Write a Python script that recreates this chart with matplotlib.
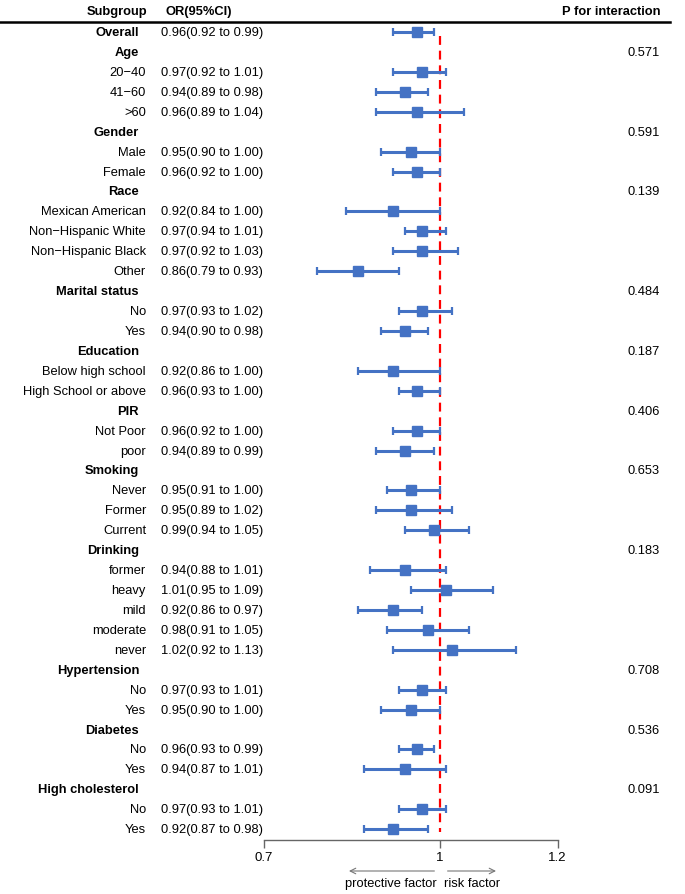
import numpy as np
import matplotlib
matplotlib.use("Agg")
from matplotlib import pyplot as plt
import matplotlib.transforms as mtransforms

plt.rcParams['font.family'] = ['Liberation Sans', 'DejaVu Sans']

# rows of the table (headers are bold, levels have an OR)
labels = ["Overall", "Age", "20\u221240", "41\u221260", ">60",
          "Gender", "Male", "Female",
          "Race", "Mexican American", "Non\u2212Hispanic White", "Non\u2212Hispanic Black", "Other",
          "Marital status", "No", "Yes",
          "Education", "Below high school", "High School or above",
          "PIR", "Not Poor", "poor",
          "Smoking", "Never", "Former", "Current",
          "Drinking", "former", "heavy", "mild", "moderate", "never",
          "Hypertension", "No", "Yes",
          "Diabetes", "No", "Yes",
          "High cholesterol", "No", "Yes"]
bold_rows = ["Overall", "Age", "Gender", "Race", "Marital status", "Education", "PIR",
             "Smoking", "Drinking", "Hypertension", "Diabetes", "High cholesterol"]

nan = np.nan
or_est = [0.96, nan, 0.97, 0.94, 0.96,
          nan, 0.95, 0.96,
          nan, 0.92, 0.97, 0.97, 0.86,
          nan, 0.97, 0.94,
          nan, 0.92, 0.96,
          nan, 0.96, 0.94,
          nan, 0.95, 0.95, 0.99,
          nan, 0.94, 1.01, 0.92, 0.98, 1.02,
          nan, 0.97, 0.95,
          nan, 0.96, 0.94,
          nan, 0.97, 0.92]
ci_low = [0.92, nan, 0.92, 0.89, 0.89,
          nan, 0.90, 0.92,
          nan, 0.84, 0.94, 0.92, 0.79,
          nan, 0.93, 0.90,
          nan, 0.86, 0.93,
          nan, 0.92, 0.89,
          nan, 0.91, 0.89, 0.94,
          nan, 0.88, 0.95, 0.86, 0.91, 0.92,
          nan, 0.93, 0.90,
          nan, 0.93, 0.87,
          nan, 0.93, 0.87]
ci_high = [0.99, nan, 1.01, 0.98, 1.04,
           nan, 1.00, 1.00,
           nan, 1.00, 1.01, 1.03, 0.93,
           nan, 1.02, 0.98,
           nan, 1.00, 1.00,
           nan, 1.00, 0.99,
           nan, 1.00, 1.02, 1.05,
           nan, 1.01, 1.09, 0.97, 1.05, 1.13,
           nan, 1.01, 1.00,
           nan, 0.99, 1.01,
           nan, 1.01, 0.98]
p_interaction = {"Age": "0.571", "Gender": "0.591", "Race": "0.139", "Marital status": "0.484",
                 "Education": "0.187", "PIR": "0.406", "Smoking": "0.653", "Drinking": "0.183",
                 "Hypertension": "0.708", "Diabetes": "0.536", "High cholesterol": "0.091"}
x_ticks = [0.7, 1, 1.2]
x_tick_labels = ["0.7", "1", "1.2"]

W, H = 685, 895
fig = plt.figure(figsize=(W / 100, H / 100), dpi=100)

# forest panel: x 0.7 -> px 264, 1.2 -> px 557.5 ; axis line at px 841, top at px 22
n = len(labels)
row_px0, row_step = 33, 19.93
top_px, bot_px = 22, 841
ax = fig.add_axes([264 / W, 1 - bot_px / H, (557.5 - 264) / W, (bot_px - top_px) / H])
ax.set_xlim(0.7, 1.2)
ax.set_ylim((bot_px - row_px0) / row_step, (top_px - row_px0) / row_step)
ax.patch.set_alpha(0)

blue = "#4472C4"
y = np.arange(n)
est = np.array(or_est)
lo = np.array(ci_low)
hi = np.array(ci_high)
ok = ~np.isnan(est)
ax.errorbar(est[ok], y[ok], xerr=[est[ok] - lo[ok], hi[ok] - est[ok]], fmt='s',
            color=blue, ms=7.5, elinewidth=2.2, capsize=3, capthick=1.6, zorder=3)

ax.vlines(1, 0.2, 40.15, colors="#FF0000", linestyles=(0, (4, 2.6)), linewidth=1.6, zorder=2)

for s in ["top", "right", "left"]:
    ax.spines[s].set_visible(False)
ax.spines["bottom"].set_color("#666666")
ax.spines["bottom"].set_linewidth(1.0)
ax.set_yticks([])
ax.set_xticks(x_ticks)
ax.set_xticklabels(x_tick_labels, fontsize=9.5)
ax.tick_params(axis="x", direction="out", length=6, width=1.0, color="#666666", pad=2)

# text columns: x in figure fraction, y in row units
tr = mtransforms.blended_transform_factory(fig.transFigure, ax.transData)
fs = 9.3
for i, lab in enumerate(labels):
    if lab in bold_rows:
        ax.text(139 / W, i, lab, transform=tr, ha="right", va="center",
                fontsize=fs, fontweight="bold")
    else:
        ax.text(146 / W, i, lab, transform=tr, ha="right", va="center", fontsize=fs)
    if ok[i]:
        ax.text(161 / W, i, "{:.2f}({:.2f} to {:.2f})".format(est[i], lo[i], hi[i]),
                transform=tr, ha="left", va="center", fontsize=fs)
    if lab in p_interaction and lab in bold_rows:
        ax.text(660 / W, i, p_interaction[lab], transform=tr, ha="right", va="center", fontsize=fs)

# header
fig.text(117 / W, 1 - 12 / H, "Subgroup", ha="center", va="center", fontsize=fs, fontweight="bold")
fig.text(199 / W, 1 - 12 / H, "OR(95%CI)", ha="center", va="center", fontsize=fs, fontweight="bold")
fig.text(660 / W, 1 - 12 / H, "P for interaction", ha="right", va="center", fontsize=fs, fontweight="bold")
fig.add_artist(plt.Line2D([0, 670 / W], [1 - 23 / H, 1 - 23 / H], color="black", linewidth=1.8))

# direction arrows below the axis
tr2 = mtransforms.blended_transform_factory(ax.transData, fig.transFigure)
arrow_y = 1 - 872 / H
ax.annotate("", xy=(0.84, arrow_y), xytext=(0.995, arrow_y), xycoords=tr2, textcoords=tr2,
            arrowprops=dict(arrowstyle="->", color="#777777", lw=0.8))
ax.annotate("", xy=(1.10, arrow_y), xytext=(1.008, arrow_y), xycoords=tr2, textcoords=tr2,
            arrowprops=dict(arrowstyle="->", color="#777777", lw=0.8))
fig.text(391 / W, 1 - 884 / H, "protective factor", ha="center", va="center", fontsize=fs)
fig.text(472 / W, 1 - 884 / H, "risk factor", ha="center", va="center", fontsize=fs)

fig.savefig("out.png", dpi=100)
